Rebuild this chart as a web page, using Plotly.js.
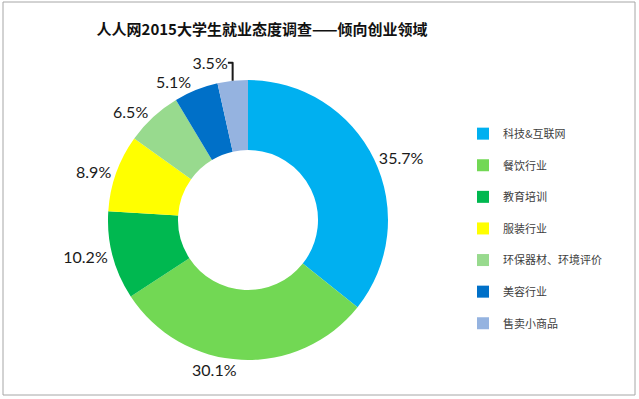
<!DOCTYPE html>
<html>
<head>
<meta charset="utf-8">
<script src="https://cdn.plot.ly/plotly-3.0.1.min.js"></script>
<style>html,body{margin:0;padding:0;background:#fff;}#chart{width:639px;height:399px;}</style>
</head>
<body>
<div id="chart"></div>
<script>
const categories = ['科技&互联网', '餐饮行业', '教育培训', '服装行业', '环保器材、环境评价', '美容行业', '售卖小商品'];
const shares = [35.7, 30.1, 10.2, 8.9, 6.5, 5.1, 3.5];
const colors = ['#00B0F0', '#72D854', '#00B850', '#FFFF00', '#98DA8E', '#0070C8', '#95B3E0'];

const W = 639, H = 399;
const cx = 248, cy = 220, r = 140;

const trace = {
  type: 'pie',
  labels: categories.map(c => c + '<br> '),
  values: shares,
  sort: false,
  direction: 'clockwise',
  rotation: 0,
  hole: 0.5,
  marker: {colors: colors, line: {color: '#ffffff', width: 0}},
  textposition: 'outside',
  texttemplate: '%{value:.1f}%',
  textfont: {family: 'Lato, "Liberation Sans", sans-serif', size: 16, color: '#1a1a1a'},
  domain: {x: [(cx - r) / W, (cx + r) / W], y: [(H - cy - r) / H, (H - cy + r) / H]},
  automargin: false
};

const layout = {
  width: W, height: H,
  margin: {l: 0, r: 0, t: 0, b: 0},
  paper_bgcolor: '#ffffff',
  showlegend: true,
  title: {
    text: '<b>人人网2015大学生就业态度调查——倾向创业领域</b>',
    font: {family: '"Noto Sans CJK SC", sans-serif', size: 15, color: '#111111'},
    x: 262 / W, xanchor: 'center', xref: 'paper',
    y: 1 - 30 / H, yanchor: 'middle', yref: 'paper'
  },
  legend: {
    x: 463 / W, xanchor: 'left',
    y: 1 - 120 / H, yanchor: 'top',
    valign: 'top',
    font: {family: '"Noto Sans CJK SC", sans-serif', size: 11, color: '#404040'},
    itemwidth: 30
  },
  shapes: [{
    type: 'rect', xref: 'paper', yref: 'paper',
    x0: 3 / W, x1: 635 / W, y0: 1 - 395 / H, y1: 1 - 2 / H,
    line: {color: '#A6A6A6', width: 1}
  }]
};

Plotly.newPlot('chart', [trace], layout, {displayModeBar: false, staticPlot: true});
</script>
</body>
</html>
